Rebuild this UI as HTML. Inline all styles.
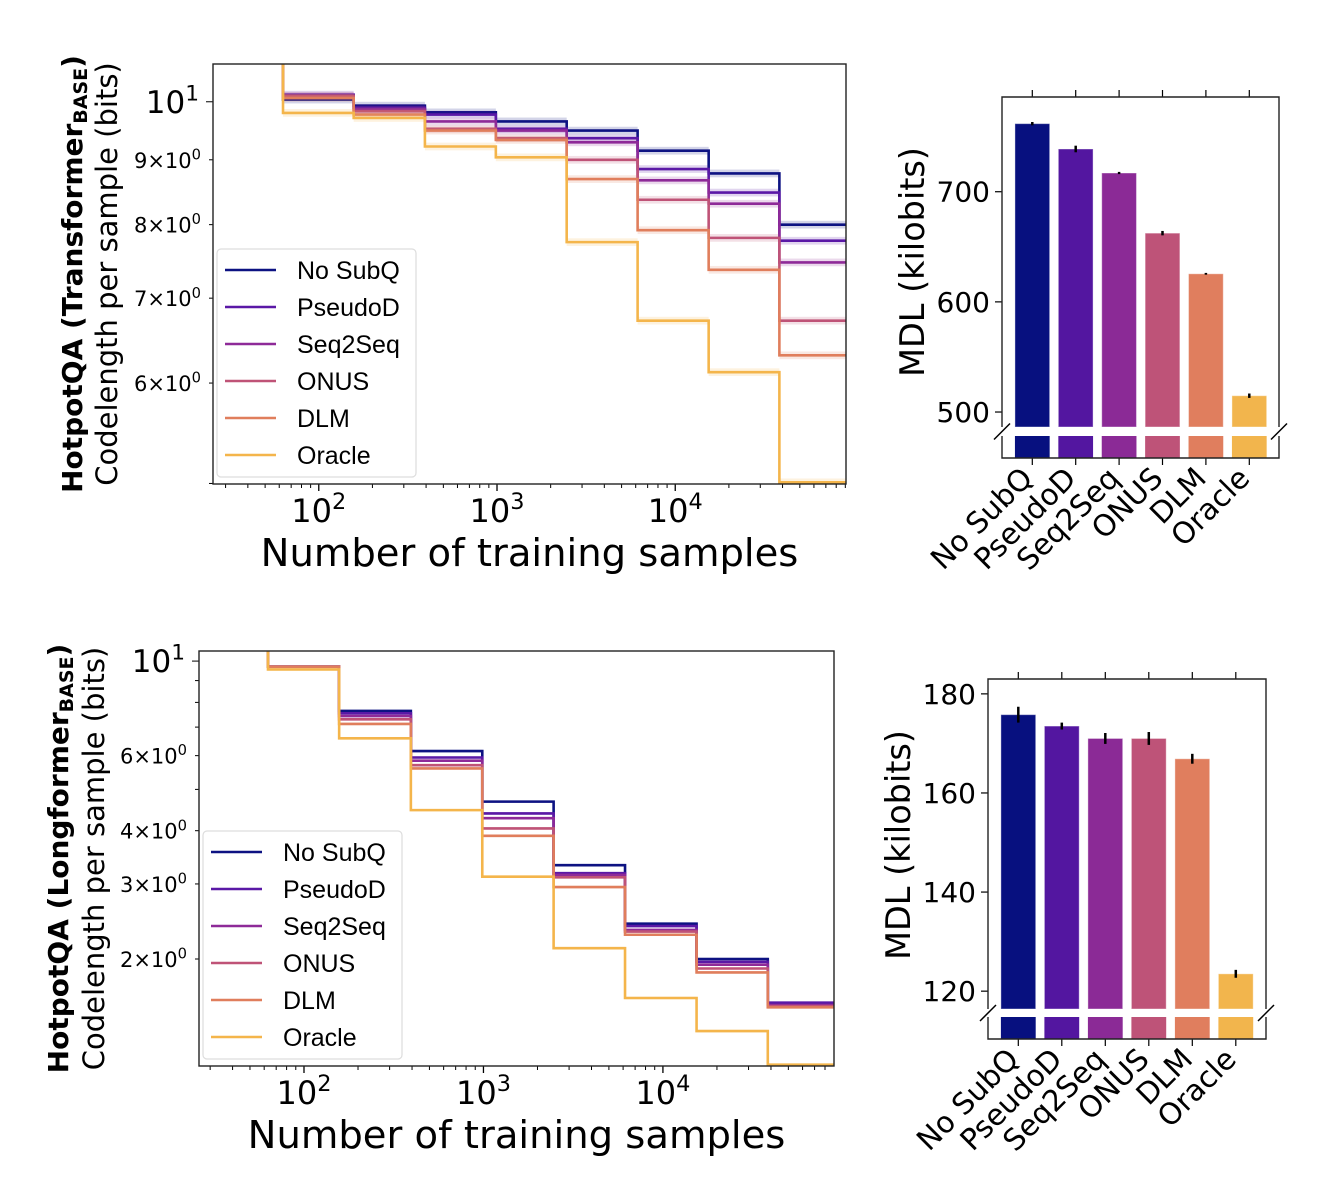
<!DOCTYPE html>
<html><head><meta charset="utf-8"><style>
html,body{margin:0;padding:0;background:#fff;}
svg{display:block;font-family:"DejaVu Sans","Liberation Sans",sans-serif;}
</style></head><body>
<svg id="fig" width="1322" height="1202" viewBox="0 0 1322 1202" xmlns="http://www.w3.org/2000/svg">
<defs>
<clipPath id="clipTop"><rect x="213" y="64" width="633" height="420"/></clipPath>
<clipPath id="clipBot"><rect x="199" y="651" width="635" height="415"/></clipPath>
</defs>
</svg>
<script>
// ---------- data ----------
const methods = ["No SubQ","PseudoD","Seq2Seq","ONUS","DLM","Oracle"];
const sampleSizes = [63,157,394,985,2460,6150,15400,38400,100000];
const startValue = [14];
// Top: Transformer BASE codelength per segment
const topNoSubQ  = [10.04,9.93,9.81,9.65,9.49,9.15,8.78,8.00];
const topPseudoD = [10.13,9.89,9.77,9.52,9.36,8.85,8.48,7.77];
const topSeq2Seq = [10.10,9.86,9.65,9.49,9.29,8.67,8.31,7.47];
const topONUS    = [10.11,9.83,9.52,9.36,9.00,8.37,7.81,6.72];
const topDLM     = [10.07,9.77,9.49,9.33,8.69,7.92,7.37,6.31];
const topOracle  = [9.80,9.71,9.22,9.04,7.75,6.72,6.12,5.01];
// Bottom: Longformer BASE
const botNoSubQ  = [9.70,7.64,6.15,4.68,3.32,2.42,2.00,1.57];
const botPseudoD = [9.70,7.54,5.94,4.39,3.18,2.39,1.97,1.58];
const botSeq2Seq = [9.70,7.43,5.84,4.28,3.15,2.34,1.94,1.56];
const botONUS    = [9.70,7.30,5.70,4.05,3.11,2.32,1.90,1.55];
const botDLM     = [9.70,7.12,5.60,3.89,2.95,2.28,1.86,1.54];
const botOracle  = [9.56,6.59,4.47,3.12,2.12,1.62,1.355,1.13];
// MDL bars
const mdlTop = [761.8,738.8,717.0,662.4,625.5,514.8];
const mdlTopErr = [1.5,3,1,2,0.8,2];
const mdlBot = [175.8,173.5,171.0,171.0,166.9,123.5];
const mdlBotErr = [1.6,0.7,1.1,1.3,1.0,0.8];
const topYTicks = [10,9,8,7,6];
const botYTicks = [10,6,4,3,2];
const xTicks = [100,1000,10000];
const mdlTopTicks = [500,600,700];
const mdlBotTicks = [120,140,160,180];

const colors = ["#0d1282","#5a18a6","#8e2a98","#bf5377","#e07e5c","#f4b54b"];
const barColors = ["#07107f","#5316a0","#8b2a96","#be5378","#e07e5e","#f2b54d"];

const svg = document.getElementById('fig');
const NS = "http://www.w3.org/2000/svg";
function mk(tag, attrs, parent){const e=document.createElementNS(NS,tag);for(const k in attrs)e.setAttribute(k,attrs[k]);(parent||svg).appendChild(e);return e;}
function txt(x,y,s,size,anchor,parent,extra){const t=mk('text',Object.assign({x:x,y:y,'font-size':size,'text-anchor':anchor||'middle',fill:'#000'},extra||{}),parent);t.textContent=s;return t;}
function pow10label(x,y,base,exp,size,anchor,parent,pre){
  const t=mk('text',{x:x,y:y,'font-size':size,'text-anchor':anchor,fill:'#000'},parent);
  if(pre){const p=mk('tspan',{},t);p.textContent=pre;}
  const b=mk('tspan',{},t);b.textContent=base;
  const s=mk('tspan',{'font-size':size*0.7,dy:-size*0.4},t);s.textContent=exp;
  return t;
}

function linePlot(cfg){
  const g=mk('g',{});
  
  
  const L=cfg.L,R=cfg.R,T=cfg.T,B=cfg.B;
  const lx0=Math.log10(cfg.xmin),lx1=Math.log10(cfg.xmax),ly0=Math.log10(cfg.ymin),ly1=Math.log10(cfg.ymax);
  const X=v=>L+(Math.log10(v)-lx0)/(lx1-lx0)*(R-L);
  const Y=v=>B-(Math.log10(v)-ly0)/(ly1-ly0)*(B-T);
  const cg=mk('g',{'clip-path':'url(#'+cfg.clip+')'},g);
  cfg.series.forEach((vals,i)=>{
    const bg=mk('g',{},cg);
    vals.forEach((v,j)=>{
      const r=mk('rect',{x:X(sampleSizes[j]),y:Y(v*1.007),width:X(sampleSizes[j+1])-X(sampleSizes[j]),height:Y(v*0.993)-Y(v*1.007),fill:colors[i],'fill-opacity':0.18},bg);
      
      
    });
    let d='M'+X(sampleSizes[0])+','+Y(startValue[0]);
    vals.forEach((v,j)=>{d+=' L'+X(sampleSizes[j])+','+Y(v)+' L'+X(sampleSizes[j+1])+','+Y(v);});
    const p=mk('path',{d:d,fill:'none',stroke:colors[i],'stroke-width':2.6},cg);
    
    
  });
  for(let e=1;e<=4;e++)for(let m=1;m<10;m++){const v=m*Math.pow(10,e);if(v<cfg.xmin||v>cfg.xmax)continue;
    const major=m===1;mk('line',{x1:X(v),x2:X(v),y1:B,y2:B+(major?7:4),stroke:'#000','stroke-width':major?1.3:1},g);}
  xTicks.forEach(v=>{const e=Math.round(Math.log10(v));pow10label(X(v),B+38,'10',String(e),32,'middle',g);});
  for(let e=0;e<=1;e++)for(let m=1;m<10;m++){const v=m*Math.pow(10,e);if(v<cfg.ymin||v>cfg.ymax)continue;
    mk('line',{x1:L-(v===10?7:4),x2:L,y1:Y(v),y2:Y(v),stroke:'#000','stroke-width':1},g);}
  cfg.yticks.forEach(v=>{
    if(v===10){pow10label(L-14,Y(v)+11,'10','1',31,'end',g);}
    else{pow10label(L-12,Y(v)+8,'','0',21,'end',g,v+'\u00d710');}
  });
  mk('rect',{x:L,y:T,width:R-L,height:B-T,fill:'none',stroke:'#222','stroke-width':1.4},g);
  const lg=mk('g',{},g);
  
  
  mk('rect',{x:cfg.legX,y:cfg.legY,width:199,height:228,rx:4,fill:'#fff','fill-opacity':0.85,stroke:'#ddd','stroke-width':1.2},lg);
  methods.forEach((m,i)=>{const yy=cfg.legY+21+i*37;
    const e=mk('g',{},lg);
    
    
    mk('line',{x1:cfg.legX+8,x2:cfg.legX+59,y1:yy,y2:yy,stroke:colors[i],'stroke-width':2.6},e);
    txt(cfg.legX+80,yy+9,m,25,'start',e,{'font-family':'"Liberation Sans",sans-serif'});
  });
  const xl=txt((L+R)/2,cfg.xlabY,'Number of training samples',38.5,'middle',g);
  
  const cy=(T+B)/2;
  const t1=mk('text',{x:0,y:0,'font-size':28,'font-weight':'bold','text-anchor':'middle',transform:'translate('+cfg.lab1X+','+cy+') rotate(-90)'},g);
  
  const a=mk('tspan',{},t1);a.textContent='HotpotQA ('+cfg.model;
  const b=mk('tspan',{'font-size':19,dy:5},t1);b.textContent='BASE';
  const c=mk('tspan',{dy:-5},t1);c.textContent=')';
  const t2=mk('text',{x:0,y:0,'font-size':29,'text-anchor':'middle',transform:'translate('+cfg.lab2X+','+cy+') rotate(-90)'},g);
  t2.textContent='Codelength per sample (bits)';
  
}

linePlot({name:'top-codelength-chart',L:213,R:846,T:64,B:484,xmin:25.5,xmax:90800,ymin:4.995,ymax:10.71,clip:'clipTop',
  series:[topNoSubQ,topPseudoD,topSeq2Seq,topONUS,topDLM,topOracle],yticks:topYTicks,legX:217,legY:249,xlabY:566,
  model:'Transformer',lab1X:82,lab2X:117});
linePlot({name:'bottom-codelength-chart',L:199,R:834,T:651,B:1066,xmin:26,xmax:89800,ymin:1.122,ymax:10.56,clip:'clipBot',
  series:[botNoSubQ,botPseudoD,botSeq2Seq,botONUS,botDLM,botOracle],yticks:botYTicks,legX:203,legY:831,xlabY:1148,
  model:'Longformer',lab1X:68,lab2X:104});

function barPlot(cfg){
  const g=mk('g',{});
  
  
  const L=cfg.L,R=cfg.R,T=cfg.T,UB=cfg.UB,LT=cfg.LT,B=cfg.B;
  const Y=v=>UB-(v-cfg.ymin)/(cfg.ymax-cfg.ymin)*(UB-T);
  const c0=cfg.c0, dx=cfg.dx, bw=dx*0.8;
  cfg.vals.forEach((v,i)=>{
    const cx=c0+i*dx;
    const r=mk('rect',{x:cx-bw/2,y:Y(v),width:bw,height:UB-Y(v),fill:barColors[i],stroke:'#fff','stroke-opacity':0.4,'stroke-width':1},g);
    
    
    mk('rect',{x:cx-bw/2,y:LT,width:bw,height:B-LT,fill:barColors[i]},g);
    const e=cfg.errs[i];
    const eb=mk('line',{x1:cx,x2:cx,y1:Y(v+e),y2:Y(v-e),stroke:'#000','stroke-width':2.5},g);
    
    mk('line',{x1:cx,x2:cx,y1:T,y2:T-7,stroke:'#000','stroke-width':1.2},g);
    mk('line',{x1:cx,x2:cx,y1:B,y2:B+7,stroke:'#000','stroke-width':1.2},g);
    const t=mk('text',{x:0,y:0,'font-size':29.5,'text-anchor':'end',transform:'translate('+(cx+2)+','+(B+22)+') rotate(-45)'},g);
    t.textContent=methods[i];
    
  });
  cfg.ticks.forEach(v=>{mk('line',{x1:L-7,x2:L,y1:Y(v),y2:Y(v),stroke:'#000','stroke-width':1.2},g);
    txt(L-12,Y(v)+10,String(v),28,'end',g);});
  const sp={stroke:'#222','stroke-width':1.4,fill:'none'};
  mk('path',Object.assign({d:'M'+L+','+UB+' L'+L+','+T+' L'+R+','+T+' L'+R+','+UB},sp),g);
  mk('path',Object.assign({d:'M'+L+','+LT+' L'+L+','+B+' L'+R+','+B+' L'+R+','+LT},sp),g);
  const mid=(UB+LT)/2;
  mk('line',{x1:L-8,y1:mid+8,x2:L+8,y2:mid-8,stroke:'#000','stroke-width':1.5},g);
  mk('line',{x1:R-8,y1:mid+8,x2:R+8,y2:mid-8,stroke:'#000','stroke-width':1.5},g);
  const yl=mk('text',{x:0,y:0,'font-size':33.5,'text-anchor':'middle',transform:'translate('+cfg.labX+','+cfg.labY+') rotate(-90)'},g);
  yl.textContent='MDL (kilobits)';
  
}
barPlot({name:'top-mdl-bar-chart',L:1002,R:1279,T:97,UB:427,LT:436,B:458,ymin:486.4,ymax:786,c0:1032.3,dx:43.4,
  vals:mdlTop,errs:mdlTopErr,ticks:mdlTopTicks,labX:924,labY:262});
barPlot({name:'bottom-mdl-bar-chart',L:988,R:1266,T:679,UB:1009,LT:1017,B:1039,ymin:116.4,ymax:183,c0:1018.3,dx:43.5,
  vals:mdlBot,errs:mdlBotErr,ticks:mdlBotTicks,labX:910,labY:845});
</script>
</body></html>
